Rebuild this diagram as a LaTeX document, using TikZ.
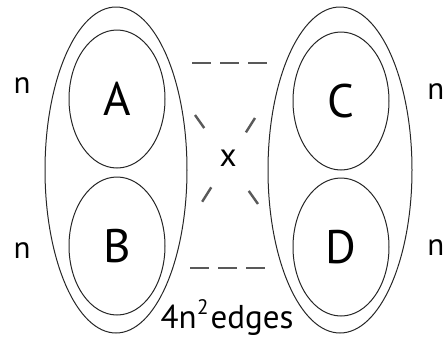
\documentclass[tikz,border=0pt]{standalone}
\usepackage{fontspec}
\setmainfont{PT Sans}
\usetikzlibrary{shapes.geometric}
\tikzset{
	part/.style={draw=black!85, ellipse, line width=1pt, inner sep=0pt},
	half/.style={part, minimum width=96pt, minimum height=138pt, font=\fontsize{47}{47}\selectfont},
	lbl/.style={font=\fontsize{31}{31}\selectfont, inner sep=0pt},
	cut/.style={draw=black!65, line width=2.4pt}
}
\begin{document}
\begin{tikzpicture}[x=1pt,y=-1pt]
	\useasboundingbox (0,0) rectangle (445,338);
	\node[part, minimum width=142pt, minimum height=326pt] (L) at (116,170) {};
	\node[part, minimum width=144pt, minimum height=326pt] (R) at (340,170) {};
	\node[half] (A) at (117,99) {A};
	\node[half] (B) at (117,246) {B};
	\node[half] (C) at (341,101) {C};
	\node[half] (D) at (341,247) {D};
	\node[lbl] (nA) at (22,86) {n};
	\node[lbl] (nB) at (22,251) {n};
	\node[lbl, anchor=east] (nC) at (444.5,92) {n};
	\node[lbl, anchor=east] (nD) at (444.5,248) {n};
	\node[lbl, font=\fontsize{33}{33}\selectfont] (x) at (228,158) {x};
	\node[lbl, anchor=base, font=\fontsize{33}{33}\selectfont] (e) at (227,328) {4n\kern0.5pt\raisebox{0.42em}{\fontsize{21}{21}\selectfont 2}\kern2pt edges};
	\coordinate (ac1) at (192,63); \coordinate (ac2) at (267,63);
	\coordinate (bd1) at (190,268); \coordinate (bd2) at (265,268);
	\coordinate (ad1) at (195,115); \coordinate (ad2) at (258,204);
	\coordinate (cb1) at (255,118); \coordinate (cb2) at (202,202);
	\draw[cut, dash pattern=on 19pt off 9pt] (ac1) -- (ac2);
	\draw[cut, dash pattern=on 19pt off 9pt] (bd1) -- (bd2);
	\draw[cut, dash pattern=on 16pt off 77pt] (ad1) -- (ad2);
	\draw[cut, dash pattern=on 17pt off 65pt] (cb1) -- (cb2);
\end{tikzpicture}
\end{document}
